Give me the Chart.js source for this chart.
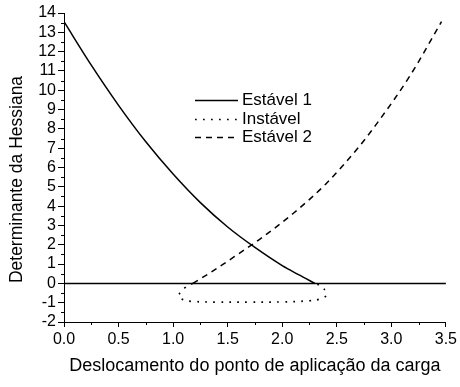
<!DOCTYPE html>
<html>
<head>
<meta charset="utf-8">
<script src="https://cdn.jsdelivr.net/npm/chart.js@4/dist/chart.umd.min.js"></script>
<style>
  html, body { margin: 0; padding: 0; background: #fff; }
  #wrap { width: 460px; height: 387px; position: relative; }
</style>
</head>
<body>
<div id="wrap"><canvas id="c" width="460" height="387"></canvas></div>
<script>
// Determinante da Hessiana ao longo das três trajetórias de equilíbrio
const estavel1X = [0.00, 0.25, 0.50, 0.75, 1.00, 1.25, 1.50, 1.75, 2.00, 2.15, 2.30];
const estavel1Y = [13.55, 11.30, 9.22, 7.33, 5.66, 4.18, 2.92, 1.86, 0.92, 0.45, 0.00];

const instavelX = [1.18, 1.11, 1.07, 1.05, 1.09, 1.17, 1.40, 1.70, 2.00, 2.25, 2.34, 2.40, 2.40, 2.37, 2.31];
const instavelY = [0.00, -0.22, -0.45, -0.66, -0.84, -0.93, -0.97, -0.97, -0.96, -0.90, -0.82, -0.66, -0.45, -0.22, 0.00];

const estavel2X = [1.18, 1.34, 1.61, 1.79, 2.10, 2.40, 2.69, 2.86, 3.17, 3.46];
const estavel2Y = [0.00, 0.55, 1.57, 2.27, 3.62, 5.15, 6.98, 8.22, 10.74, 13.55];

const xTicks = [0, 0.5, 1.0, 1.5, 2.0, 2.5, 3.0, 3.5];
const yTicks = [-2, -1, 0, 1, 2, 3, 4, 5, 6, 7, 8, 9, 10, 11, 12, 13, 14];

const seriesNames = ['Estável 1', 'Instável', 'Estável 2'];
const xTitle = 'Deslocamento do ponto de aplicação da carga';
const yTitle = 'Determinante da Hessiana';

const FONT = '"Liberation Sans", Arial, Helvetica, sans-serif';

function pts(xs, ys) { return xs.map((x, i) => ({ x: x, y: ys[i] })); }

// small ticks halfway between the labelled ones, drawn through the scales
const minorTicks = {
  id: 'minorTicks',
  afterDraw(chart) {
    const ctx = chart.ctx;
    const xs = chart.scales.x, ys = chart.scales.y;
    ctx.save();
    ctx.strokeStyle = '#000';
    ctx.lineWidth = 1;
    ctx.beginPath();
    for (let i = 0; i < xTicks.length - 1; i++) {
      const v = (xTicks[i] + xTicks[i + 1]) / 2;
      const px = Math.round(xs.getPixelForValue(v)) + 0.5;
      ctx.moveTo(px, ys.bottom);
      ctx.lineTo(px, ys.bottom + 3);
    }
    for (let i = 0; i < yTicks.length - 1; i++) {
      const v = (yTicks[i] + yTicks[i + 1]) / 2;
      const py = Math.round(ys.getPixelForValue(v)) + 0.5;
      ctx.moveTo(xs.left, py);
      ctx.lineTo(xs.left - 3, py);
    }
    ctx.stroke();
    ctx.restore();
  }
};

// vertical axis title, set a little below the middle of the axis
const yAxisTitle = {
  id: 'yAxisTitle',
  afterDraw(chart) {
    const ctx = chart.ctx;
    const ys = chart.scales.y;
    ctx.save();
    ctx.translate(17, (ys.top + ys.bottom) / 2 + 12);
    ctx.rotate(-Math.PI / 2);
    ctx.font = '17.5px ' + FONT;
    ctx.fillStyle = '#000';
    ctx.textAlign = 'center';
    ctx.textBaseline = 'middle';
    ctx.fillText(yTitle, 0, 0);
    ctx.restore();
  }
};

// legend inside the plot area, line samples use each dataset's own style
const insideLegend = {
  id: 'insideLegend',
  afterDraw(chart) {
    const ctx = chart.ctx;
    const x0 = 195, x1 = 238, tx = 242;
    const rows = [100, 119, 137];
    ctx.save();
    ctx.font = '17px ' + FONT;
    ctx.textBaseline = 'middle';
    ctx.textAlign = 'left';
    ctx.fillStyle = '#000';
    chart.data.datasets.forEach((ds) => {
      if (!ds.label) return;
      const y = rows[seriesNames.indexOf(ds.label)] + 0.5;
      ctx.strokeStyle = ds.borderColor;
      ctx.lineWidth = ds.borderWidth;
      ctx.setLineDash(ds.borderDash || []);
      ctx.beginPath();
      ctx.moveTo(x0, y);
      ctx.lineTo(x1, y);
      ctx.stroke();
      ctx.setLineDash([]);
      ctx.fillText(ds.label, tx, y);
    });
    ctx.restore();
  }
};

new Chart(document.getElementById('c'), {
  type: 'scatter',
  data: {
    datasets: [
      {
        label: '',
        data: [{ x: xTicks[0], y: 0 }, { x: xTicks[xTicks.length - 1], y: 0 }],
        showLine: true, borderColor: '#000', borderWidth: 1.5, pointRadius: 0, tension: 0
      },
      {
        label: seriesNames[0],
        data: pts(estavel1X, estavel1Y),
        showLine: true, borderColor: '#000', borderWidth: 1.5, pointRadius: 0,
        cubicInterpolationMode: 'monotone'
      },
      {
        label: seriesNames[1],
        data: pts(instavelX, instavelY),
        showLine: true, borderColor: '#000', borderWidth: 1.7, borderDash: [1.7, 6.3],
        pointRadius: 0, tension: 0.4
      },
      {
        label: seriesNames[2],
        data: pts(estavel2X, estavel2Y),
        showLine: true, borderColor: '#000', borderWidth: 1.5, borderDash: [6, 5],
        pointRadius: 0, cubicInterpolationMode: 'monotone'
      }
    ]
  },
  options: {
    responsive: false,
    animation: false,
    events: [],
    layout: { padding: { top: 13, right: 13, left: 0, bottom: 0 } },
    plugins: { legend: { display: false }, tooltip: { enabled: false } },
    scales: {
      x: {
        type: 'linear', min: 0, max: 3.5,
        afterFit(s) { s.height = 65; },
        afterBuildTicks(s) { s.ticks = xTicks.map(v => ({ value: v })); },
        border: { display: true, color: '#000', width: 1 },
        grid: { drawOnChartArea: false, drawTicks: true, tickLength: 5, color: '#000', tickColor: '#000' },
        ticks: {
          color: '#000', padding: 3, maxRotation: 0, autoSkip: false,
          font: { family: FONT, size: 16 },
          callback: v => v.toFixed(1)
        },
        title: {
          display: true, text: xTitle, color: '#000',
          font: { family: FONT, size: 18 }, padding: { top: 0, bottom: 10 }
        }
      },
      y: {
        type: 'linear', min: -2, max: 14,
        afterFit(s) { s.width = 64; },
        afterBuildTicks(s) { s.ticks = yTicks.map(v => ({ value: v })); },
        border: { display: true, color: '#000', width: 1 },
        grid: { drawOnChartArea: false, drawTicks: true, tickLength: 6, color: '#000', tickColor: '#000' },
        ticks: {
          color: '#000', padding: 2, autoSkip: false,
          font: { family: FONT, size: 16 },
          callback: v => String(v)
        },
        title: { display: false }
      }
    }
  },
  plugins: [minorTicks, yAxisTitle, insideLegend]
});
</script>
</body>
</html>
